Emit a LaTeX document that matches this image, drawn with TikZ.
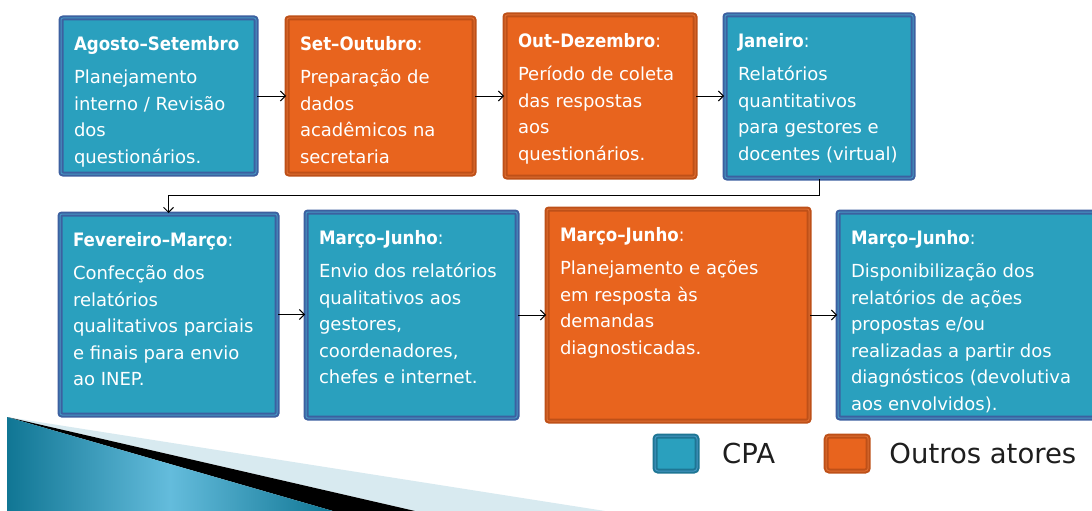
\documentclass[tikz,border=0pt]{standalone}
\usepackage{fontspec}
\setmainfont{DejaVu Sans}
\newfontfamily\headfont{DejaVu Sans Condensed}
\usetikzlibrary{positioning, arrows.meta}

\definecolor{cpafill}{RGB}{42,160,190}
\definecolor{cpaline}{RGB}{60,96,160}
\definecolor{cpainner}{RGB}{70,150,195}
\definecolor{outfill}{RGB}{232,100,30}
\definecolor{outline}{RGB}{190,80,24}
\definecolor{outinner}{RGB}{222,110,50}
\definecolor{keyline}{RGB}{30,118,148}
\definecolor{wedgedark}{RGB}{16,118,148}
\definecolor{wedgelight}{RGB}{100,188,220}
\definecolor{wedgeband}{RGB}{216,234,240}

\newcommand{\stage}[4]{%
  \parbox[c][#2][t]{#1}{\vspace*{13.5pt}%
    \fontsize{18}{26.5}\selectfont
    \begin{tabular}[t]{@{}l@{}}
      {\headfont\fontsize{18.5}{26.5}\selectfont #3}\\[7pt]
      #4
    \end{tabular}}}

\begin{document}
\begin{tikzpicture}[x=1pt, y=-1pt,
    stagebox/.style={rectangle, rounded corners=2pt, anchor=north west,
      inner xsep=13pt, inner ysep=0pt, text=white,
      line width=2pt, double distance=1pt},
    cpa/.style={stagebox, fill=cpafill, draw=cpaline, double=cpainner},
    outro/.style={stagebox, fill=outfill, draw=outline, double=outinner},
    keybox/.style={rectangle, rounded corners=3pt, anchor=north west,
      minimum width=42pt, minimum height=35pt, inner sep=0pt,
      line width=2pt, double distance=1pt},
    keytext/.style={inner sep=0pt, text={rgb,255:red,30;green,30;blue,30},
      font=\fontsize{27.5}{32}\selectfont},
    flow/.style={-{Straight Barb[length=5pt,width=10pt]}, line width=1pt}
  ]
  \useasboundingbox (0,0) rectangle (1092,511);
  \fill[white] (0,0) rectangle (1092,511);
  \clip (0,0) rectangle (1092,511);

  % corner wedge
  \fill[wedgeband] (7,417) -- (605,511) -- (415,511) -- cycle;
  \fill[black] (7,417) -- (415,511) -- (333,511) -- cycle;
  \shade[left color=wedgedark, right color=wedgedark, middle color=wedgelight]
    (7,417) -- (333,511) -- (7,511) -- cycle;

  % first row
  \node[cpa] (agoset) at (60,17)
    {\stage{169pt}{156pt}{\bfseries Agosto–Setembro}
      {Planejamento\\interno / Revisão\\dos\\questionários.}};
  \node[outro] (setout) at (286,17)
    {\stage{161pt}{156pt}{{\bfseries Set–Outubro}:}
      {Preparação de\\dados\\acadêmicos na\\secretaria}};
  \node[outro] (outdez) at (504,14)
    {\stage{164pt}{162pt}{{\bfseries Out–Dezembro}:}
      {Período de coleta\\das respostas\\aos\\questionários.}};
  \node[cpa] (janeiro) at (724,14)
    {\stage{162pt}{163pt}{{\bfseries Janeiro}:}
      {Relatórios\\quantitativos\\para gestores e\\docentes (virtual)}};

  % second row
  \node[cpa] (fevmar) at (59,213)
    {\stage{191pt}{201pt}{{\bfseries Fevereiro–Março}:}
      {Confecção dos\\relatórios\\qualitativos parciais\\e finais para envio\\ao INEP.}};
  \node[cpa] (marjunA) at (305,211)
    {\stage{185pt}{206pt}{{\bfseries Março–Junho}:}
      {Envio dos relatórios\\qualitativos aos\\gestores,\\coordenadores,\\chefes e internet.}};
  \node[outro] (marjunB) at (546,208)
    {\stage{236pt}{212pt}{{\bfseries Março–Junho}:}
      {Planejamento e ações\\em resposta às\\demandas\\diagnosticadas.}};
  \node[cpa] (marjunC) at (837,211)
    {\stage{244pt}{206pt}{{\bfseries Março–Junho}:}
      {Disponibilização dos\\relatórios de ações\\propostas e/ou\\realizadas a partir dos\\diagnósticos (devolutiva\\aos envolvidos).}};

  \draw[flow] (agoset.east) -- (agoset.east -| setout.west);
  \draw[flow] (setout.east) -- (setout.east -| outdez.west);
  \draw[flow] (outdez.east) -- (outdez.east -| janeiro.west);
  \draw[flow] (janeiro.south) -- ++(0,16) -| (fevmar.north);
  \draw[flow] (fevmar.east) -- (fevmar.east -| marjunA.west);
  \draw[flow] (marjunA.east) -- (marjunA.east -| marjunB.west);
  \draw[flow] (marjunB.east) -- (marjunB.east -| marjunC.west);

  % legend
  \node[keybox, fill=cpafill, draw=keyline, double=cpainner] (cpakey) at (654,435) {};
  \node[keytext, right=24pt of cpakey] (cpalabel) {CPA};
  \node[keybox, fill=outfill, draw=outline, double=outinner, right=50pt of cpalabel] (outkey) {};
  \node[keytext, right=20pt of outkey] (outlabel) {Outros atores};
\end{tikzpicture}
\end{document}
